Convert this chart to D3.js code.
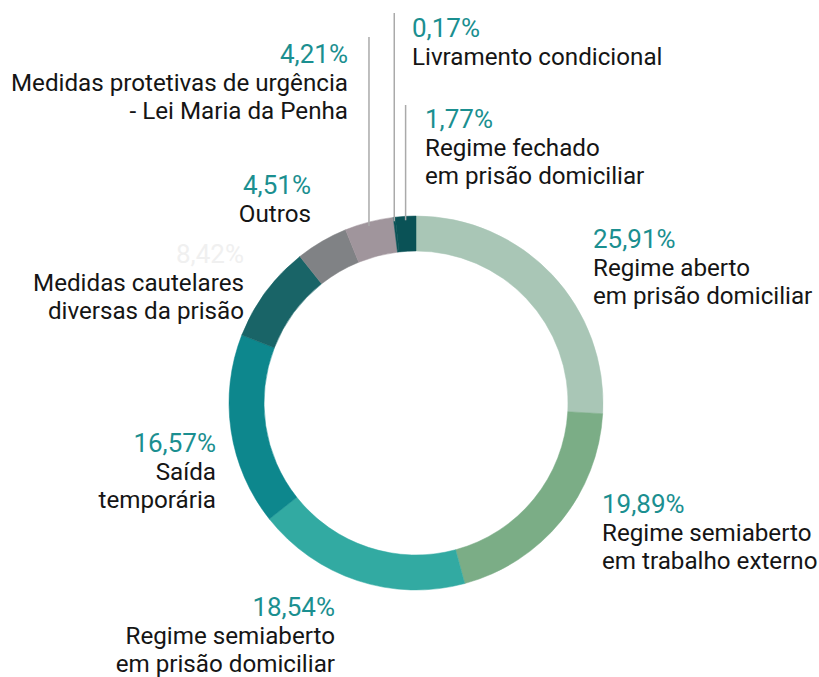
<!DOCTYPE html>
<meta charset="utf-8">
<style>
body { margin: 0; background: #fff; }
text { font-family: Roboto, "Noto Sans", sans-serif; }
.pct { font-size: 26px; font-weight: 400; fill: #1b8f90; }
.lbl { font-size: 24.2px; fill: #151515; }
.leader { stroke: #aaa; stroke-width: 1.5px; }
</style>
<svg width="819" height="677"></svg>
<script src="https://d3js.org/d3.v7.min.js"></script>
<script>

// data
var categories = [
  "Regime aberto em prisão domiciliar",
  "Regime semiaberto em trabalho externo",
  "Regime semiaberto em prisão domiciliar",
  "Saída temporária",
  "Medidas cautelares diversas da prisão",
  "Outros",
  "Medidas protetivas de urgência - Lei Maria da Penha",
  "Livramento condicional",
  "Regime fechado em prisão domiciliar"
];
var values = [25.91, 19.89, 18.54, 16.57, 8.42, 4.51, 4.21, 0.17, 1.77];
var pctLabels = ["25,91%", "19,89%", "18,54%", "16,57%", "8,42%", "4,51%", "4,21%", "0,17%", "1,77%"];
var labelLines = [
  ["Regime aberto", "em prisão domiciliar"],
  ["Regime semiaberto", "em trabalho externo"],
  ["Regime semiaberto", "em prisão domiciliar"],
  ["Saída", "temporária"],
  ["Medidas cautelares", "diversas da prisão"],
  ["Outros"],
  ["Medidas protetivas de urgência", "- Lei Maria da Penha"],
  ["Livramento condicional"],
  ["Regime fechado", "em prisão domiciliar"]
];

var colors = ["#a9c6b6", "#7bad86", "#32aaa2", "#0d878d", "#196467",
              "#808285", "#a0959c", "#0a5256", "#0a5256"];

// label layout: anchor x, baseline of percentage, text-anchor, leader top (or null)
var layout = [
  {x: 593, y: 248, a: "start", lead: null},
  {x: 602, y: 513, a: "start", lead: null},
  {x: 335, y: 616, a: "end", lead: null},
  {x: 216, y: 452, a: "end", lead: null},
  {x: 244, y: 263, a: "end", lead: null, faint: true},
  {x: 311, y: 194, a: "end", lead: null},
  {x: 348, y: 63, a: "end", lead: 37},
  {x: 412, y: 37, a: "start", lead: 13},
  {x: 425, y: 128, a: "start", lead: 105}
];

var svg = d3.select("svg"),
    cx = 416, cy = 403,
    outer = 187, inner = 152,
    lineH = 28;

var pie = d3.pie().sort(null).value(function(d) { return d; });
var arc = d3.arc().innerRadius(inner).outerRadius(outer);
var arcs = pie(values);

var g = svg.append("g").attr("transform", "translate(" + cx + "," + cy + ")");

g.selectAll("path")
  .data(arcs)
  .enter().append("path")
    .attr("d", arc)
    .attr("fill", function(d, i) { return colors[i]; })
    .attr("stroke", function(d, i) { return colors[i]; })
    .attr("stroke-width", 0.5);

// leader lines
arcs.forEach(function(d, i) {
  var L = layout[i];
  if (L.lead == null) return;
  var ang = (d.startAngle + d.endAngle) / 2;
  var x = outer * Math.sin(ang);
  var y = -outer * Math.cos(ang);
  svg.append("line")
    .attr("class", "leader")
    .attr("x1", cx + x).attr("x2", cx + x)
    .attr("y1", L.lead).attr("y2", cy + y + 4);
});

// labels
categories.forEach(function(c, i) {
  var L = layout[i];
  var t = svg.append("g");
  t.append("text")
    .attr("class", "pct")
    .attr("x", L.x).attr("y", L.y)
    .attr("text-anchor", L.a)
    .style("fill", L.faint ? "#f0f0f0" : null)
    .text(pctLabels[i]);
  labelLines[i].forEach(function(s, k) {
    t.append("text")
      .attr("class", "lbl")
      .attr("x", L.x).attr("y", L.y + lineH * (k + 1))
      .attr("text-anchor", L.a)
      .text(s);
  });
});

</script>
